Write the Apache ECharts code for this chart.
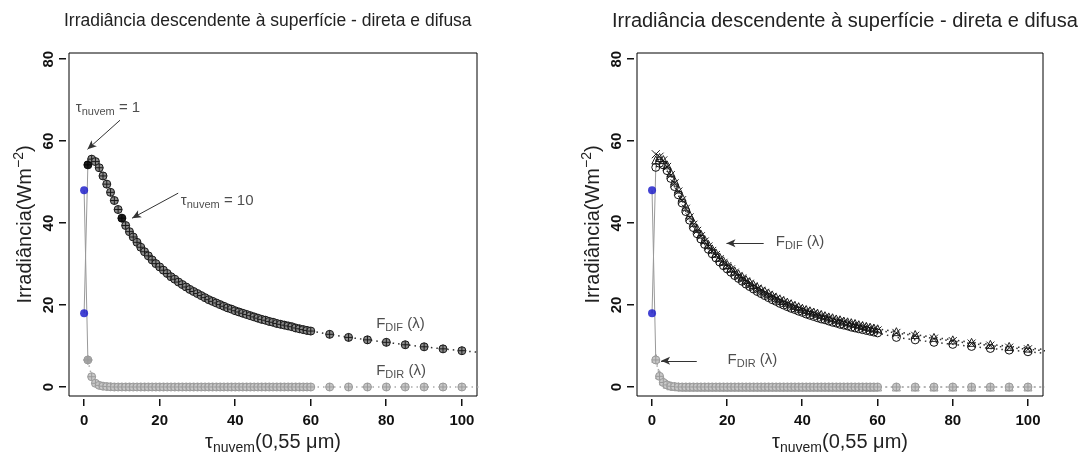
<!DOCTYPE html>
<html>
<head>
<meta charset="utf-8">
<script src="https://cdn.jsdelivr.net/npm/echarts@6/dist/echarts.min.js"></script>
<style>
  html, body { margin: 0; padding: 0; background: #fff; }
  #chart { width: 1082px; height: 461px; }
</style>
</head>
<body>
<div id="chart"></div>
<script>
// optical depth of the cloud (x axis)
const tau = [1, 2, 3, 4, 5, 6, 7, 8, 9, 10, 11, 12, 13, 14, 15, 16, 17, 18, 19, 20,
  21, 22, 23, 24, 25, 26, 27, 28, 29, 30, 31, 32, 33, 34, 35, 36, 37, 38, 39, 40,
  41, 42, 43, 44, 45, 46, 47, 48, 49, 50, 51, 52, 53, 54, 55, 56, 57, 58, 59, 60,
  65, 70, 75, 80, 85, 90, 95, 100, 105];

// left panel
const fdifLeft = [54.2, 55.6, 55.0, 53.5, 51.5, 49.5, 47.5, 45.5, 43.3, 41.2,
  39.4, 37.9, 36.6, 35.3, 34.1, 33.0, 32.0, 31.0, 30.1, 29.3,
  28.5, 27.7, 26.9, 26.3, 25.6, 25.0, 24.4, 23.8, 23.3, 22.8,
  22.3, 21.8, 21.3, 20.9, 20.5, 20.1, 19.7, 19.3, 19.0, 18.6,
  18.3, 18.0, 17.7, 17.4, 17.1, 16.8, 16.5, 16.3, 16.0, 15.8,
  15.5, 15.3, 15.1, 14.9, 14.7, 14.4, 14.2, 14.0, 13.8, 13.65,
  12.85, 12.1, 11.5, 10.9, 10.3, 9.8, 9.3, 8.85, 8.4];
const fdirLeft = [6.6, 2.5, 0.9, 0.4, 0.2, 0.1, 0.05, 0, 0, 0,
  0, 0, 0, 0, 0, 0, 0, 0, 0, 0, 0, 0, 0, 0, 0, 0, 0, 0, 0, 0,
  0, 0, 0, 0, 0, 0, 0, 0, 0, 0, 0, 0, 0, 0, 0, 0, 0, 0, 0, 0,
  0, 0, 0, 0, 0, 0, 0, 0, 0, 0, 0, 0, 0, 0, 0, 0, 0, 0, 0];

// right panel (several runs, nearly on top of each other)
const fdifRightA = [53.6, 54.6, 54.2, 52.8, 50.9, 48.9, 46.9, 44.9, 42.8, 40.7,
  38.9, 37.4, 36.1, 34.8, 33.6, 32.5, 31.5, 30.5, 29.6, 28.8,
  28.0, 27.2, 26.5, 25.8, 25.1, 24.5, 23.9, 23.3, 22.8, 22.3,
  21.8, 21.3, 20.9, 20.4, 20.0, 19.6, 19.2, 18.9, 18.5, 18.2,
  17.8, 17.5, 17.2, 16.9, 16.6, 16.4, 16.1, 15.8, 15.6, 15.3,
  15.1, 14.9, 14.6, 14.4, 14.2, 14.0, 13.8, 13.6, 13.4, 13.2,
  12.1, 11.5, 10.9, 10.4, 9.9, 9.4, 9.0, 8.6, 8.2];
const fdifRightB = [55.4, 56.0, 55.5, 54.2, 52.3, 50.3, 48.3, 46.3, 44.1, 42.0,
  40.2, 38.7, 37.3, 36.0, 34.8, 33.7, 32.7, 31.7, 30.8, 29.9,
  29.1, 28.3, 27.6, 26.9, 26.2, 25.6, 25.0, 24.4, 23.9, 23.4,
  22.9, 22.4, 21.9, 21.5, 21.1, 20.7, 20.3, 19.9, 19.6, 19.2,
  18.9, 18.6, 18.3, 18.0, 17.7, 17.4, 17.1, 16.9, 16.6, 16.4,
  16.1, 15.9, 15.7, 15.5, 15.2, 15.0, 14.8, 14.6, 14.4, 14.2,
  13.5, 12.8, 12.1, 11.5, 10.9, 10.4, 9.9, 9.5, 9.1];
const fdifRightC = [56.8, 56.2, 55.3, 53.7, 51.7, 49.7, 47.7, 45.6, 43.5, 41.4,
  39.6, 38.1, 36.8, 35.5, 34.3, 33.2, 32.2, 31.2, 30.3, 29.5,
  28.7, 27.9, 27.1, 26.5, 25.8, 25.2, 24.6, 24.0, 23.5, 23.0,
  22.5, 22.0, 21.5, 21.1, 20.7, 20.3, 19.9, 19.5, 19.2, 18.8,
  18.5, 18.2, 17.9, 17.6, 17.3, 17.0, 16.7, 16.5, 16.2, 16.0,
  15.7, 15.5, 15.3, 15.1, 14.9, 14.6, 14.4, 14.2, 14.0, 13.8,
  13.2, 12.5, 11.8, 11.2, 10.6, 10.1, 9.6, 9.2, 8.8];
const fdirRightA = [6.6, 2.6, 1.1, 0.5, 0.2, 0.1, 0, 0, 0, 0,
  0, 0, 0, 0, 0, 0, 0, 0, 0, 0, 0, 0, 0, 0, 0, 0, 0, 0, 0, 0,
  0, 0, 0, 0, 0, 0, 0, 0, 0, 0, 0, 0, 0, 0, 0, 0, 0, 0, 0, 0,
  0, 0, 0, 0, 0, 0, 0, 0, 0, 0, 0, 0, 0, 0, 0, 0, 0, 0, 0];
const fdirRightB = [7.0, 3.0, 1.5, 0.7, 0.3, 0.15, 0.05, 0, 0, 0,
  0, 0, 0, 0, 0, 0, 0, 0, 0, 0, 0, 0, 0, 0, 0, 0, 0, 0, 0, 0,
  0, 0, 0, 0, 0, 0, 0, 0, 0, 0, 0, 0, 0, 0, 0, 0, 0, 0, 0, 0,
  0, 0, 0, 0, 0, 0, 0, 0, 0, 0, 0, 0, 0, 0, 0, 0, 0, 0, 0];

// clear sky values at tau = 0 (blue points)
const clearTau = 0;
const clearDirect = 48;
const clearDiffuse = 18;

const xTicks = [0, 20, 40, 60, 80, 100];
const yTicks = [0, 20, 40, 60, 80];

const X_MIN = -4, X_MAX = 104, Y_MIN = -2.2, Y_MAX = 81.5;

const FONT = '"Liberation Sans", Arial, sans-serif';
const circlePlus = 'path://M10,0A10,10,0,1,1,-10,0A10,10,0,1,1,10,0ZM-10,0L10,0M0,-10L0,10';
const xCross = 'path://M-10,-10L10,10M-10,10L10,-10';

const boxes = [
  { left: 69, top: 53, width: 408, height: 343 },
  { left: 637, top: 53, width: 406, height: 343 }
];
const AXIS_GAP = 3;
const TICK_LEN = 7;

const pairs = arr => tau.map((t, i) => [t, arr[i]]);

const richText = {
  m: { fontSize: 15, fontFamily: FONT, color: '#222' },
  s: { fontSize: 11, fontFamily: FONT, color: '#222', padding: [8, 0, 0, 0] }
};

function xAxis(gridIndex) {
  return {
    type: 'value', gridIndex, min: X_MIN, max: X_MAX, offset: AXIS_GAP,
    axisLine: { show: false, onZero: false },
    axisTick: { show: false },
    axisLabel: { customValues: xTicks, margin: 14, fontSize: 15, fontWeight: 'bold', color: '#111', fontFamily: FONT },
    splitLine: { show: false },
    name: 'τ{s|nuvem}(0,55 μm)', nameLocation: 'middle', nameGap: 30,
    nameTextStyle: {
      fontSize: 20, fontFamily: FONT, color: '#222',
      rich: { s: { fontSize: 14, fontFamily: FONT, color: '#222', padding: [11, 0, 0, 0] } }
    }
  };
}

function yAxis(gridIndex) {
  return {
    type: 'value', gridIndex, min: Y_MIN, max: Y_MAX, offset: AXIS_GAP,
    axisLine: { show: false, onZero: false },
    axisTick: { show: false },
    axisLabel: { customValues: yTicks, rotate: 90, margin: 10, fontSize: 15, fontWeight: 'bold', color: '#111', fontFamily: FONT },
    splitLine: { show: false },
    name: 'Irradiância(Wm{p|−2})', nameLocation: 'middle', nameGap: 28,
    nameTextStyle: {
      fontSize: 20, fontFamily: FONT, color: '#222',
      rich: { p: { fontSize: 14, fontFamily: FONT, color: '#222', padding: [0, 0, 12, 0] } }
    }
  };
}

// R-style tick marks outside the box, placed through the axis scale
function tickSeries(idx) {
  const data = xTicks.map(v => [v, Y_MIN, 0]).concat(yTicks.map(v => [X_MIN, v, 1]));
  return {
    type: 'custom', xAxisIndex: idx, yAxisIndex: idx, clip: false, silent: true, z: 20,
    dimensions: ['x', 'y', 'dir'],
    encode: { x: 0, y: 1 },
    data,
    renderItem: (params, api) => {
      const p = api.coord([api.value(0), api.value(1)]);
      const x = Math.round(p[0]);
      const y = Math.round(p[1]);
      const shape = api.value(2) === 0
        ? { x: x - 1, y: y + AXIS_GAP, width: 1.5, height: TICK_LEN }
        : { x: x - AXIS_GAP - TICK_LEN, y: y - 1, width: TICK_LEN, height: 1.5 };
      return { type: 'rect', shape, style: { fill: '#111' } };
    }
  };
}

function dottedSeries(idx, data, symbol, fill, border, lineColor, z) {
  return {
    type: 'line', xAxisIndex: idx, yAxisIndex: idx, data,
    symbol, symbolSize: 8, showAllSymbol: true, z,
    itemStyle: { color: fill, borderColor: border, borderWidth: 1 },
    lineStyle: { color: lineColor, width: 1.5, type: [1.5, 4] }
  };
}

function connectors(idx, difFirst, dirFirst) {
  return [
    { type: 'line', xAxisIndex: idx, yAxisIndex: idx, symbol: 'none', z: 1,
      data: [[clearTau, clearDiffuse], [tau[0], difFirst]], lineStyle: { color: '#999', width: 1 } },
    { type: 'line', xAxisIndex: idx, yAxisIndex: idx, symbol: 'none', z: 1,
      data: [[clearTau, clearDirect], [tau[0], dirFirst]], lineStyle: { color: '#999', width: 1 } },
    { type: 'scatter', xAxisIndex: idx, yAxisIndex: idx, symbolSize: 8, z: 5,
      data: [[clearTau, clearDirect], [clearTau, clearDiffuse]], itemStyle: { color: '#1414c8' } }
  ];
}

function notes(idx, labels, arrows) {
  return {
    type: 'scatter', xAxisIndex: idx, yAxisIndex: idx, symbolSize: 0, z: 10, silent: true,
    data: labels.map(l => ({ value: [l.x, l.y], label: { formatter: l.text } })),
    label: { show: true, position: 'right', distance: 0, rich: richText },
    markLine: {
      silent: true, symbol: ['none', 'arrow'], symbolSize: [6, 9],
      label: { show: false },
      lineStyle: { color: '#333', width: 1, type: 'solid' },
      data: arrows.map(a => [{ coord: a[0] }, { coord: a[1] }])
    }
  };
}

const chart = echarts.init(document.getElementById('chart'));

chart.setOption({
  animation: false,
  backgroundColor: '#fff',
  title: [
    { text: 'Irradiância descendente à superfície - direta e difusa', left: 59, top: 7,
      textStyle: { fontSize: 17.5, fontWeight: 'normal', color: '#222', fontFamily: FONT } },
    { text: 'Irradiância descendente à superfície - direta e difusa', left: 607, top: 6,
      textStyle: { fontSize: 20, fontWeight: 'normal', color: '#222', fontFamily: FONT } }
  ],
  grid: boxes.map(b => Object.assign({ show: true, borderColor: '#000', borderWidth: 1 }, b)),
  xAxis: [xAxis(0), xAxis(1)],
  yAxis: [yAxis(0), yAxis(1)],
  series: [
    tickSeries(0),
    tickSeries(1),

    // left panel
    ...connectors(0, fdifLeft[0], fdirLeft[0]),
    dottedSeries(0, pairs(fdirLeft), circlePlus, '#c8c8c8', '#9a9a9a', '#aaa', 2),
    dottedSeries(0, pairs(fdifLeft), circlePlus, '#8c8c8c', '#1a1a1a', '#333', 3),
    { type: 'scatter', xAxisIndex: 0, yAxisIndex: 0, symbolSize: 8, z: 6,
      data: [[tau[0], fdifLeft[0]], [tau[9], fdifLeft[9]]], itemStyle: { color: '#000' } },
    { type: 'scatter', xAxisIndex: 0, yAxisIndex: 0, symbol: 'diamond', symbolSize: 10, z: 6,
      data: [[tau[0], fdirLeft[0]]], itemStyle: { color: '#9a9a9a' } },
    notes(0, [
      { x: -2.2, y: 68.2, text: '{m|τ}{s|nuvem}{m| = 1}' },
      { x: 25.6, y: 45.4, text: '{m|τ}{s|nuvem}{m| = 10}' },
      { x: 77.3, y: 15.4, text: '{m|F}{s|DIF}{m| (λ)}' },
      { x: 77.3, y: 4.0, text: '{m|F}{s|DIR}{m| (λ)}' }
    ], [
      [[9.5, 65.1], [0.9, 58.0]],
      [[24.9, 47.3], [12.7, 41.2]]
    ]),

    // right panel
    ...connectors(1, fdifRightA[0], fdirRightA[0]),
    dottedSeries(1, pairs(fdirRightB), 'triangle', 'rgba(0,0,0,0)', '#9a9a9a', '#aaa', 2),
    dottedSeries(1, pairs(fdirRightA), circlePlus, '#c8c8c8', '#9a9a9a', '#aaa', 2),
    dottedSeries(1, pairs(fdifRightC), xCross, 'rgba(0,0,0,0)', '#222', '#333', 3),
    dottedSeries(1, pairs(fdifRightB), 'triangle', 'rgba(0,0,0,0)', '#222', '#333', 3),
    dottedSeries(1, pairs(fdifRightA), 'circle', 'rgba(0,0,0,0)', '#111', '#333', 3),
    notes(1, [
      { x: 32.9, y: 35.4, text: '{m|F}{s|DIF}{m| (λ)}' },
      { x: 20.1, y: 6.6, text: '{m|F}{s|DIR}{m| (λ)}' }
    ], [
      [[29.7, 35.1], [19.8, 35.1]],
      [[11.9, 6.4], [2.4, 6.4]]
    ])
  ]
});
</script>
</body>
</html>
